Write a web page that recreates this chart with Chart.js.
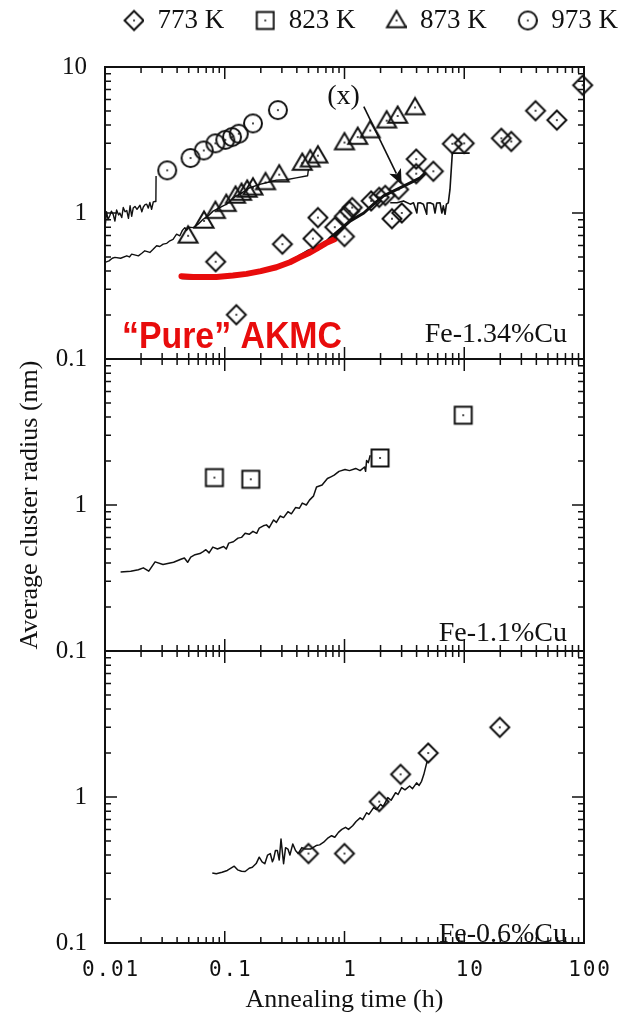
<!DOCTYPE html>
<html>
<head>
<meta charset="utf-8">
<script src="https://cdn.jsdelivr.net/npm/chart.js@4.4.1/dist/chart.umd.min.js"></script>
<style>
  html, body { margin: 0; padding: 0; background: #fff; }
  canvas { display: block; }
</style>
</head>
<body>
<canvas id="chart" width="621" height="1024"></canvas>
<script>
// ---- legend / tick text ----
const temps = ['773 K', '823 K', '873 K', '973 K'];
const markerShapes = ['diamond', 'square', 'triangle', 'circle'];
const timeTickLabels = ['0.01', '0.1', '1', '10', '100'];
const radiusTickLabels = ['0.1', '1', '10'];
const radiusTickLabelsLower = ['0.1', '1'];
const alloyLabels = ['Fe-1.34%Cu', 'Fe-1.1%Cu', 'Fe-0.6%Cu'];

// ---- Fe-1.34%Cu : measured radii [time h, radius nm] ----
const cu134_773 = [[0.084,0.464],[0.125,0.201],[0.303,0.612],[0.545,0.668],[0.60,0.93],[0.83,0.80],[1.0,0.69],[1.0,0.95],[1.1,1.03],[1.16,1.09],[1.67,1.21],[1.95,1.28],[2.19,1.32],[2.49,0.914],[2.83,1.45],[3.01,1.0],[3.97,1.86],[3.97,2.34],[5.52,1.93],[7.95,2.98],[10.0,3.0],[20.4,3.25],[24.7,3.09],[39.4,5.02],[59.3,4.33],[97.5,7.5]];
const cu134_873 = [[0.0494,0.698],[0.0671,0.883],[0.0836,1.03],[0.103,1.15],[0.123,1.31],[0.138,1.37],[0.154,1.44],[0.172,1.49],[0.219,1.62],[0.285,1.83],[0.444,2.2],[0.518,2.32],[0.60,2.47],[1.0,3.04],[1.29,3.31],[1.64,3.67],[2.25,4.29],[2.78,4.62],[3.88,5.28]];
const cu134_973 = [[0.0331,1.96],[0.0518,2.38],[0.0668,2.68],[0.0836,3.0],[0.101,3.17],[0.115,3.31],[0.131,3.49],[0.172,4.11],[0.278,5.07]];

// ---- Fe-1.34%Cu : simulated radius curves ----
const sim134_973 = [[0.01,1.0],[0.0101,0.85],[0.0103,1.02],[0.0106,0.9],[0.011,0.965],[0.0113,1.03],[0.0117,0.98],[0.0121,0.88],[0.0125,1.05],[0.013,0.97],[0.0133,1.0],[0.0138,0.93],[0.0142,1.09],[0.0147,1.02],[0.0152,1.04],[0.0157,0.92],[0.0162,1.12],[0.0167,0.95],[0.0172,1.08],[0.0178,1.11],[0.0185,1.06],[0.0196,1.13],[0.0203,1.02],[0.0209,1.1],[0.0216,1.14],[0.0223,1.15],[0.023,1.08],[0.0237,1.18],[0.0245,1.06],[0.0253,1.19],[0.0262,1.2],[0.0266,1.21],[0.0267,1.79]];
const sim134_873 = [[0.01,0.459],[0.0108,0.47],[0.0115,0.49],[0.0121,0.497],[0.0135,0.49],[0.0152,0.509],[0.016,0.50],[0.0167,0.523],[0.019,0.509],[0.0203,0.53],[0.0215,0.551],[0.0237,0.537],[0.025,0.56],[0.027,0.597],[0.0287,0.59],[0.0306,0.612],[0.0328,0.62],[0.0348,0.645],[0.037,0.66],[0.0396,0.716],[0.0422,0.698],[0.0443,0.76],[0.0464,0.794],[0.048,0.76],[0.05,0.80],[0.0545,0.794],[0.0599,0.837],[0.066,0.906],[0.0726,0.955],[0.0799,1.03],[0.0909,1.09],[0.1035,1.15],[0.1177,1.27],[0.138,1.37],[0.162,1.49],[0.196,1.57],[0.222,1.61],[0.27,1.68],[0.326,1.69],[0.395,1.74],[0.492,1.80],[0.50,2.0]];
const sim134_773 = [[0.0435,0.36],[0.055,0.358],[0.07,0.36],[0.085,0.365],[0.12,0.375],[0.152,0.385],[0.2,0.40],[0.27,0.43],[0.35,0.465],[0.42,0.505],[0.5,0.55],[0.58,0.58],[0.7,0.63],[0.765,0.679],[0.926,0.774],[1.12,0.883],[1.45,1.0],[1.75,1.15],[2.12,1.31],[2.74,1.45],[3.54,1.61],[4.28,1.74],[4.71,1.88]];
const sim134_773_branch = [[2.41,1.175],[2.74,1.175],[3.11,1.21],[3.54,1.15],[3.77,1.175],[4.02,1.0],[4.1,1.17],[4.28,1.175],[4.56,1.15],[4.86,0.98],[4.9,1.17],[5.18,1.175],[5.52,1.15],[5.7,1.0],[5.89,1.17],[6.28,1.175],[6.5,1.0],[6.69,1.12],[6.91,0.98],[7.1,1.15],[7.36,1.175],[7.6,1.45],[7.95,2.57],[11.1,2.57]];
const pureAkmc = [[0.0435,0.369],[0.0545,0.365],[0.0852,0.365],[0.117,0.373],[0.152,0.383],[0.2,0.40],[0.27,0.425],[0.35,0.46],[0.422,0.497],[0.5,0.53],[0.581,0.567],[0.70,0.622],[0.826,0.662]];

// ---- Fe-1.1%Cu ----
const cu11_823 = [[0.082,1.54],[0.165,1.50],[1.98,2.10],[9.8,4.12]];
const sim11 = [[0.0135,0.348],[0.0164,0.352],[0.019,0.36],[0.0209,0.371],[0.0232,0.352],[0.0262,0.408],[0.0305,0.391],[0.0374,0.405],[0.043,0.425],[0.046,0.434],[0.049,0.405],[0.052,0.44],[0.0565,0.457],[0.062,0.465],[0.066,0.48],[0.0696,0.494],[0.074,0.47],[0.0795,0.515],[0.087,0.50],[0.0978,0.52],[0.103,0.50],[0.108,0.548],[0.118,0.56],[0.129,0.593],[0.138,0.60],[0.148,0.641],[0.16,0.63],[0.172,0.66],[0.185,0.64],[0.194,0.694],[0.21,0.72],[0.223,0.731],[0.235,0.70],[0.256,0.79],[0.27,0.76],[0.29,0.84],[0.31,0.82],[0.337,0.90],[0.36,0.87],[0.39,0.96],[0.42,0.95],[0.444,1.03],[0.48,1.00],[0.51,1.08],[0.55,1.15],[0.584,1.33],[0.65,1.37],[0.72,1.52],[0.77,1.56],[0.82,1.60],[0.9,1.70],[1.01,1.75],[1.1,1.72],[1.24,1.78],[1.35,1.72],[1.47,1.82],[1.5,1.7],[1.53,2.02],[1.58,1.95],[1.64,2.19]];

// ---- Fe-0.6%Cu ----
const cu06_773 = [[0.50,0.41],[1.0,0.41],[1.95,0.93],[2.94,1.43],[5.0,2.0],[19.8,3.0]];
const sim06 = [[0.0787,0.302],[0.085,0.298],[0.095,0.305],[0.105,0.314],[0.12,0.336],[0.128,0.317],[0.138,0.31],[0.148,0.309],[0.16,0.325],[0.17,0.33],[0.183,0.35],[0.194,0.387],[0.205,0.36],[0.216,0.349],[0.228,0.40],[0.24,0.41],[0.25,0.36],[0.256,0.377],[0.265,0.43],[0.275,0.43],[0.285,0.37],[0.295,0.515],[0.31,0.349],[0.322,0.45],[0.337,0.44],[0.35,0.40],[0.37,0.477],[0.39,0.43],[0.41,0.41],[0.44,0.45],[0.47,0.44],[0.52,0.44],[0.58,0.465],[0.62,0.47],[0.67,0.49],[0.72,0.52],[0.78,0.543],[0.83,0.53],[0.89,0.572],[0.95,0.60],[1.02,0.62],[1.08,0.60],[1.17,0.635],[1.25,0.68],[1.35,0.72],[1.42,0.70],[1.53,0.78],[1.6,0.76],[1.75,0.846],[1.85,0.82],[2.0,0.89],[2.1,0.86],[2.3,0.99],[2.45,0.95],[2.67,1.07],[2.8,1.04],[3.0,1.16],[3.2,1.12],[3.5,1.19],[3.7,1.14],[4.0,1.25],[4.2,1.2],[4.4,1.28],[4.6,1.43],[4.9,1.76]];

// ---- arrow annotation "(x)" : [time, radius] ----
const arrowFrom = [1.45, 5.35];
const arrowTo = [3.0, 1.57];
const arrowLabelAt = [0.98, 6.25];

const INK = '#111';
const RED = '#e80c0c';

// hollow marker with a centre dot, drawn on an offscreen canvas
function markerCanvas(shape, w, h, cx, cy) {
  const c = document.createElement('canvas');
  c.width = w; c.height = h;
  const g = c.getContext('2d');
  g.strokeStyle = INK; g.fillStyle = INK; g.lineWidth = 2;
  g.beginPath();
  if (shape === 'diamond') {
    const r = 9.5;
    g.moveTo(cx, cy - r); g.lineTo(cx + r, cy); g.lineTo(cx, cy + r); g.lineTo(cx - r, cy); g.closePath();
  } else if (shape === 'square') {
    g.rect(cx - 8.5, cy - 8.5, 17, 17);
  } else if (shape === 'triangle') {
    const r = 9.5;
    g.moveTo(cx, cy - r); g.lineTo(cx + r, cy + r * 0.72); g.lineTo(cx - r, cy + r * 0.72); g.closePath();
  } else {
    g.arc(cx, cy, 9, 0, Math.PI * 2);
  }
  g.stroke();
  g.beginPath(); g.arc(cx, cy, 1, 0, Math.PI * 2); g.fill();
  return c;
}
const dataIcons = markerShapes.map(s => markerCanvas(s, 24, 24, 12, 12));
const legendIcons = markerShapes.map(s => markerCanvas(s, 48, 24, 38, 12));

const pts = arr => arr.map(([x, y]) => ({ x, y }));
const markerSet = (label, arr, shapeIdx, yAxisID) => ({
  label, data: pts(arr), yAxisID, showLine: false,
  pointStyle: dataIcons[shapeIdx], pointRadius: 9, clip: false
});
const curveSet = (label, arr, yAxisID, width, color) => ({
  label, data: pts(arr), yAxisID, showLine: true, pointRadius: 0,
  borderColor: color, borderWidth: width, tension: 0, fill: false,
  borderCapStyle: color === RED ? 'round' : 'butt', borderJoinStyle: 'round'
});

const labelFor = (list) => (v) => list.find(s => Math.abs(Number(s) / v - 1) < 1e-6) || '';
const ticksFrom = (list) => (scale) => { scale.ticks = list.map(s => ({ value: Number(s) })); };
// decade and sub-decade positions for the inward tick marks
const subTicks = (list) => {
  const out = [];
  const dec = list.map(Number);
  for (let i = 0; i < dec.length; i++) {
    out.push({ v: dec[i], major: true });
    if (i < dec.length - 1) for (let k = 2; k <= 9; k++) out.push({ v: dec[i] * k, major: false });
  }
  return out;
};

// panel frames, inward ticks and text annotations
const panelDecor = {
  id: 'panelDecor',
  afterDatasetsDraw(chart) {
    const ctx = chart.ctx, xs = chart.scales.x, area = chart.chartArea;
    const y1 = chart.scales.y1;
    const panels = ['y1', 'y2', 'y3'].map(id => chart.scales[id]);
    ctx.save();

    // alloy labels
    ctx.fillStyle = INK;
    ctx.font = '28px "Liberation Serif"';
    ctx.textAlign = 'right';
    ctx.textBaseline = 'alphabetic';
    const baseOff = [17, 10, 1.5];
    panels.forEach((s, i) => ctx.fillText(alloyLabels[i], area.right - 17, s.bottom - baseOff[i]));

    // "Pure" AKMC tag
    ctx.save();
    ctx.fillStyle = RED;
    ctx.font = 'bold 36px "Liberation Sans"';
    ctx.textAlign = 'left';
    ctx.translate(area.left + 17, y1.bottom - 11);
    ctx.scale(0.94, 1);
    ctx.fillText('\u201CPure\u201D AKMC', 0, 0);
    ctx.restore();

    // arrow and "(x)"
    const ax0 = xs.getPixelForValue(arrowFrom[0]), ay0 = y1.getPixelForValue(arrowFrom[1]);
    const ax1 = xs.getPixelForValue(arrowTo[0]), ay1 = y1.getPixelForValue(arrowTo[1]);
    const ang = Math.atan2(ay1 - ay0, ax1 - ax0);
    const cs = Math.cos(ang), sn = Math.sin(ang), hl = 15, hw = 6.5;
    ctx.strokeStyle = INK; ctx.lineWidth = 1.6;
    ctx.beginPath(); ctx.moveTo(ax0, ay0); ctx.lineTo(ax1 - cs * hl * 0.8, ay1 - sn * hl * 0.8); ctx.stroke();
    ctx.beginPath();
    ctx.moveTo(ax1, ay1);
    ctx.lineTo(ax1 - cs * hl + sn * hw, ay1 - sn * hl - cs * hw);
    ctx.lineTo(ax1 - cs * hl * 0.75, ay1 - sn * hl * 0.75);
    ctx.lineTo(ax1 - cs * hl - sn * hw, ay1 - sn * hl + cs * hw);
    ctx.closePath(); ctx.fill();
    ctx.font = '28px "Liberation Serif"';
    ctx.textAlign = 'center'; ctx.textBaseline = 'middle';
    ctx.fillText('(x)', xs.getPixelForValue(arrowLabelAt[0]), y1.getPixelForValue(arrowLabelAt[1]));

    // frames and inward ticks
    const xTicks = subTicks(timeTickLabels);
    const yTicks = subTicks(radiusTickLabels);
    panels.forEach(s => {
      const top = s.top, bot = s.bottom, l = area.left, r = area.right;
      ctx.lineWidth = 2; ctx.strokeStyle = INK;
      ctx.strokeRect(l, top, r - l, bot - top);
      ctx.lineWidth = 1.5;
      ctx.beginPath();
      yTicks.forEach(t => {
        const py = s.getPixelForValue(t.v), len = t.major ? 12 : 6;
        ctx.moveTo(l, py); ctx.lineTo(l + len, py);
        ctx.moveTo(r, py); ctx.lineTo(r - len, py);
      });
      xTicks.forEach(t => {
        const px = xs.getPixelForValue(t.v), len = t.major ? 12 : 6;
        ctx.moveTo(px, top); ctx.lineTo(px, top + len);
        ctx.moveTo(px, bot); ctx.lineTo(px, bot - len);
      });
      ctx.stroke();
    });
    ctx.restore();
    // wide-set monospace time labels follow
    ctx.letterSpacing = '1.8px';
  },
  afterDraw(chart) { chart.ctx.letterSpacing = '0px'; }
};

Chart.defaults.font.family = '"Liberation Serif", serif';
Chart.defaults.color = INK;

const serifTick = { family: '"Liberation Serif"', size: 25 };
const hiddenAxis = (position, size) => ({
  type: 'linear', position, display: true,
  grid: { display: false, drawTicks: false }, border: { display: false },
  ticks: { display: false },
  afterFit(s) { if (position === 'top') s.height = size; else s.width = size; }
});
const panelAxis = (labels, title) => ({
  type: 'logarithmic', position: 'left', stack: 'panels', stackWeight: 1,
  min: 0.1, max: 10,
  afterBuildTicks: ticksFrom(labels),
  grid: { display: false, drawTicks: false }, border: { display: false },
  ticks: { autoSkip: false, padding: 18, font: serifTick, color: INK, callback: labelFor(labels) },
  title: title ? { display: true, text: title, color: INK, font: { family: '"Liberation Serif"', size: 26 }, padding: { top: 15, bottom: 0 } } : { display: false },
  afterFit(s) { s.width = 105; }
});

new Chart(document.getElementById('chart'), {
  type: 'scatter',
  data: {
    datasets: [
      markerSet(temps[0], cu134_773, 0, 'y1'),
      markerSet(temps[2], cu134_873, 2, 'y1'),
      markerSet(temps[3], cu134_973, 3, 'y1'),
      markerSet(temps[1], cu11_823, 1, 'y2'),
      markerSet(temps[0], cu06_773, 0, 'y3'),
      curveSet('Pure AKMC', pureAkmc, 'y1', 6, RED),
      curveSet('973 K sim', sim134_973, 'y1', 1.4, INK),
      curveSet('873 K sim', sim134_873, 'y1', 1.4, INK),
      curveSet('773 K sim', sim134_773, 'y1', 3, INK),
      curveSet('773 K sim (b)', sim134_773_branch, 'y1', 1.6, INK),
      curveSet('823 K sim', sim11, 'y2', 1.5, INK),
      curveSet('773 K sim 0.6', sim06, 'y3', 1.5, INK)
    ]
  },
  options: {
    responsive: false,
    animation: false,
    events: [],
    layout: { padding: { top: 4, right: 0, bottom: 0, left: 0 } },
    plugins: {
      tooltip: { enabled: false },
      legend: {
        position: 'top', align: 'end',
        labels: {
          usePointStyle: true, pointStyleWidth: 48, padding: 3, color: INK,
          font: { family: '"Liberation Serif"', size: 27 },
          generateLabels: () => temps.map((t, i) => ({
            text: t, pointStyle: legendIcons[i], fillStyle: 'rgba(0,0,0,0)',
            strokeStyle: INK, lineWidth: 0, hidden: false, fontColor: INK
          }))
        }
      }
    },
    scales: {
      x: {
        type: 'logarithmic', position: 'bottom', min: 0.01, max: 100,
        afterBuildTicks: ticksFrom(timeTickLabels),
        grid: { display: false, drawTicks: false }, border: { display: false },
        ticks: {
          autoSkip: false, maxRotation: 0, padding: 15, labelOffset: 6, z: 1,
          font: { family: '"DejaVu Sans Mono"', size: 21 }, color: INK,
          callback: labelFor(timeTickLabels)
        },
        title: { display: true, text: 'Annealing time (h)', color: INK, font: { family: '"Liberation Serif"', size: 26 }, padding: { top: 0, bottom: 8 } },
        afterFit(s) { s.height = 81; }
      },
      xTop: hiddenAxis('top', 23),
      y3: panelAxis(radiusTickLabelsLower, null),
      y2: panelAxis(radiusTickLabelsLower, 'Average cluster radius (nm)'),
      y1: panelAxis(radiusTickLabels, null),
      yRight: hiddenAxis('right', 37)
    }
  },
  plugins: [panelDecor]
});
</script>
</body>
</html>
